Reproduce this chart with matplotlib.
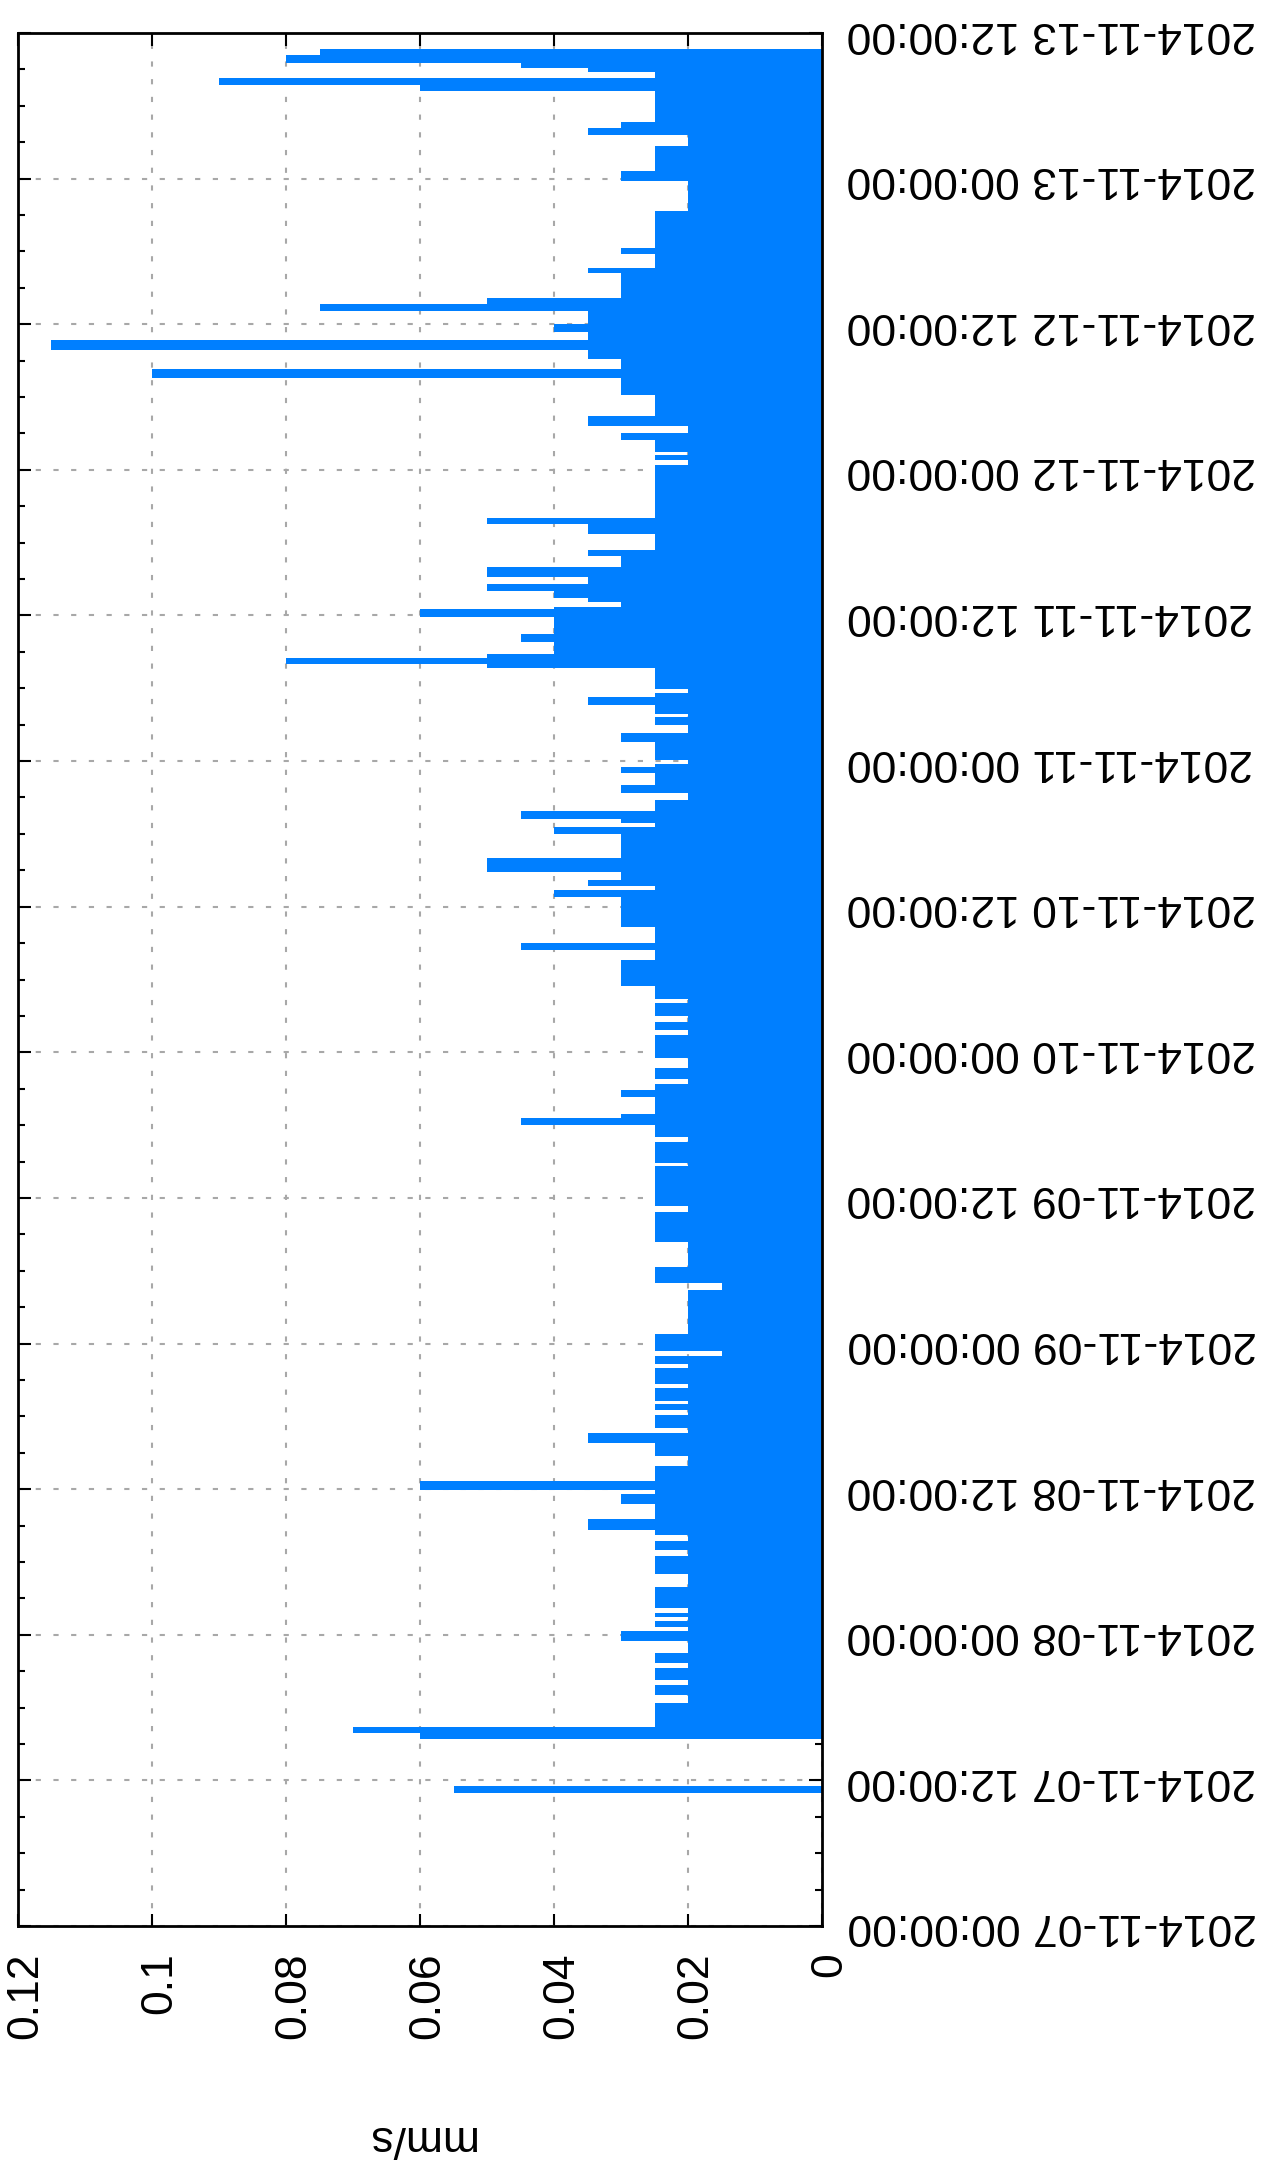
import matplotlib
matplotlib.use("Agg")
import matplotlib.pyplot as plt
import matplotlib.dates as mdates
import matplotlib.transforms as mtransforms
from datetime import datetime, timedelta

plt.rcParams['font.family'] = ['Liberation Sans', 'DejaVu Sans']

START = datetime(2014, 11, 7)

# step data: each value holds from its start hour (after 2014-11-07 00:00) to the next start
seg_start_h = [
    11.0, 11.5, 15.4, 15.9, 16.4, 18.4, 19.0, 19.9, 20.3, 21.3,
    21.7, 22.5, 23.5, 24.3, 24.6, 25.1, 25.5, 25.8, 26.2, 27.9,
    29.0, 30.5, 31.0, 31.7, 32.2, 32.6, 33.5, 34.8, 35.6, 35.9,
    36.7, 37.9, 38.7, 39.8, 40.6, 41.0, 42.1, 42.5, 43.0, 43.3,
    44.3, 44.7, 46.0, 46.3, 47.0, 47.4, 48.8, 52.4, 53.0, 54.3,
    56.4, 58.8, 59.3, 62.6, 62.9, 64.6, 65.0, 66.0, 66.6, 66.9,
    68.3, 68.9, 69.4, 69.8, 70.7, 71.5, 73.4, 73.8, 74.5, 75.0,
    76.1, 76.4, 77.5, 79.6, 80.4, 81.0, 82.3, 84.8, 85.4, 85.7,
    86.2, 86.9, 88.0, 90.0, 90.6, 90.9, 91.2, 91.9, 92.8, 93.4,
    94.0, 95.0, 95.5, 95.8, 96.1, 97.6, 98.3, 99.0, 99.6, 99.9,
    100.6, 101.3, 101.6, 101.9, 103.7, 104.0, 104.5, 104.8, 105.8, 106.5,
    107.9, 108.5, 108.7, 109.1, 109.4, 110.0, 110.6, 111.2, 112.0, 112.9,
    113.4, 114.7, 115.5, 116.0, 120.4, 120.8, 121.2, 121.5, 122.5, 123.0,
    123.6, 124.4, 126.2, 127.6, 128.3, 129.1, 129.9, 130.7, 131.4, 132.0,
    133.1, 133.7, 134.2, 136.2, 136.6, 137.8, 138.3, 141.3, 143.8, 144.6,
    146.7, 147.6, 148.2, 148.7, 151.2, 151.7, 152.3, 152.8, 153.1, 153.5,
    154.2,
]
seg_mm_s = [
    0.055, 0.0, 0.06, 0.07, 0.025, 0.02, 0.025, 0.02, 0.025, 0.02,
    0.025, 0.02, 0.03, 0.02, 0.025, 0.02, 0.025, 0.02, 0.025, 0.02,
    0.025, 0.02, 0.025, 0.02, 0.025, 0.035, 0.025, 0.03, 0.025, 0.06,
    0.025, 0.02, 0.025, 0.035, 0.02, 0.025, 0.02, 0.025, 0.02, 0.025,
    0.02, 0.025, 0.02, 0.025, 0.015, 0.025, 0.02, 0.015, 0.025, 0.02,
    0.025, 0.02, 0.025, 0.02, 0.025, 0.02, 0.025, 0.045, 0.03, 0.025,
    0.03, 0.025, 0.02, 0.025, 0.02, 0.025, 0.02, 0.025, 0.02, 0.025,
    0.02, 0.025, 0.03, 0.025, 0.045, 0.025, 0.03, 0.04, 0.025, 0.035,
    0.03, 0.05, 0.03, 0.04, 0.025, 0.03, 0.045, 0.025, 0.02, 0.03,
    0.025, 0.03, 0.025, 0.02, 0.025, 0.03, 0.02, 0.025, 0.02, 0.025,
    0.035, 0.025, 0.02, 0.025, 0.05, 0.08, 0.05, 0.04, 0.045, 0.04,
    0.06, 0.04, 0.03, 0.035, 0.04, 0.05, 0.035, 0.05, 0.03, 0.035,
    0.025, 0.035, 0.05, 0.025, 0.02, 0.025, 0.02, 0.025, 0.03, 0.02,
    0.035, 0.025, 0.03, 0.10, 0.03, 0.035, 0.115, 0.035, 0.04, 0.035,
    0.075, 0.05, 0.03, 0.035, 0.025, 0.03, 0.025, 0.02, 0.03, 0.025,
    0.02, 0.035, 0.03, 0.025, 0.06, 0.09, 0.025, 0.035, 0.045, 0.08,
    0.075,
]
seg_end_h = 154.7  # end of the last step

value_ticks = [0, 0.02, 0.04, 0.06, 0.08, 0.1, 0.12]
value_tick_labels = ["0", "0.02", "0.04", "0.06", "0.08", "0.1", "0.12"]
time_tick_labels = [
    "2014-11-07 00:00:00", "2014-11-07 12:00:00",
    "2014-11-08 00:00:00", "2014-11-08 12:00:00",
    "2014-11-09 00:00:00", "2014-11-09 12:00:00",
    "2014-11-10 00:00:00", "2014-11-10 12:00:00",
    "2014-11-11 00:00:00", "2014-11-11 12:00:00",
    "2014-11-12 00:00:00", "2014-11-12 12:00:00",
    "2014-11-13 00:00:00", "2014-11-13 12:00:00",
]

W, H = 1281, 2165
fig = plt.figure(figsize=(W / 100, H / 100), dpi=100)
ax = fig.add_axes([18 / W, (H - 1926) / H, (822 - 18) / W, (1926 - 33) / H])

starts = [START + timedelta(hours=h) for h in seg_start_h]
ends = starts[1:] + [START + timedelta(hours=seg_end_h)]
y0 = mdates.date2num(starts)
y1 = mdates.date2num(ends)
ax.barh(y0, seg_mm_s, height=y1 - y0, align="edge", color="#007fff", linewidth=0)

# value axis runs right-to-left (chart is turned on its side)
ax.set_xlim(0.12, 0)
time_ticks = mdates.date2num([datetime.strptime(s, "%Y-%m-%d %H:%M:%S") for s in time_tick_labels])
ax.set_ylim(time_ticks[0], time_ticks[-1])

ax.set_xticks(value_ticks, value_tick_labels, rotation=90, fontsize=32)
ax.set_yticks(time_ticks, time_tick_labels, rotation=180, fontsize=32, ha="left", va="center")
ax.yaxis.set_minor_locator(mdates.HourLocator(byhour=range(0, 24, 3)))

ax.tick_params(axis="x", which="major", direction="in", top=True, bottom=True,
               length=9, width=1.5, pad=19)
ax.tick_params(axis="y", which="both", direction="in", left=True, right=True,
               labelleft=False, labelright=True, width=1.5, pad=18)
ax.tick_params(axis="y", which="major", length=9.5)
ax.tick_params(axis="y", which="minor", length=5)

shift = mtransforms.ScaledTranslation(8 / 100, 0, fig.dpi_scale_trans)
for lab in ax.get_xticklabels():
    lab.set_transform(lab.get_transform() + shift)

ax.set_axisbelow(True)
ax.grid(True, which="major", color="#a8a8a8", linestyle=(0, (2.5, 6)), linewidth=1.5)

for sp in ax.spines.values():
    sp.set_linewidth(2)
    sp.set_color("black")

# axis title sits upside down under the value labels
fig.text(420 / W, 1 - 2137 / H, "mm/s", fontsize=32, rotation=180, ha="center", va="center")

plt.savefig("out.png", dpi=100)
